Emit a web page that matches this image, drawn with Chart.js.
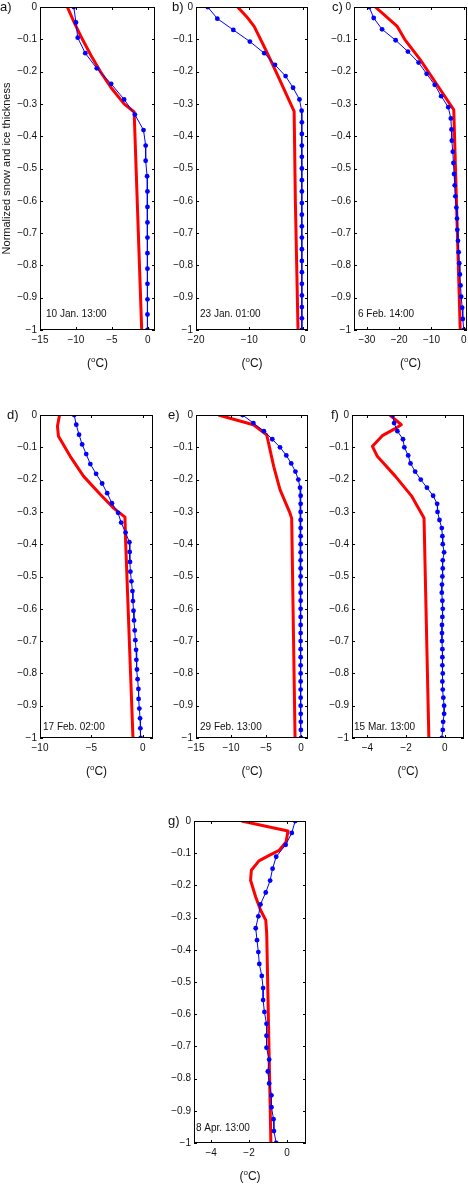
<!DOCTYPE html>
<html>
<head>
<meta charset="utf-8">
<script src="https://cdn.jsdelivr.net/npm/chart.js@4.4.1/dist/chart.umd.min.js"></script>
<style>
  html, body { margin: 0; padding: 0; background: #fff; }
  #wrap { position: relative; width: 468px; height: 1186px; overflow: hidden; }
  #wrap canvas { position: absolute; }
</style>
</head>
<body>
<div id="wrap"></div>
<script>
// normalized depth of model layers (0 = snow surface, -1 = ice bottom)
const depthA = [0, -0.048, -0.095, -0.143, -0.19, -0.238, -0.286, -0.333, -0.381, -0.429, -0.476,
  -0.524, -0.571, -0.619, -0.667, -0.714, -0.762, -0.81, -0.857, -0.905, -0.952, -1];
const depthB = [0, -0.036, -0.071, -0.107, -0.143, -0.179, -0.214, -0.25, -0.286, -0.321, -0.357,
  -0.393, -0.429, -0.464, -0.5, -0.536, -0.571, -0.607, -0.643, -0.679, -0.714, -0.75, -0.786,
  -0.821, -0.857, -0.893, -0.929, -0.964, -1];
const depthC = [0, -0.034, -0.069, -0.103, -0.138, -0.172, -0.207, -0.241, -0.276, -0.31, -0.345,
  -0.379, -0.414, -0.448, -0.483, -0.517, -0.552, -0.586, -0.621, -0.655, -0.69, -0.724, -0.759,
  -0.793, -0.828, -0.862, -0.897, -0.931, -0.966, -1];
const depthD = [0, -0.03, -0.061, -0.091, -0.121, -0.152, -0.182, -0.212, -0.242, -0.273, -0.303,
  -0.333, -0.364, -0.394, -0.424, -0.455, -0.485, -0.515, -0.545, -0.576, -0.606, -0.636, -0.667,
  -0.697, -0.727, -0.758, -0.788, -0.818, -0.848, -0.879, -0.909, -0.939, -0.97, -1];
const depthEF = [0, -0.025, -0.05, -0.075, -0.1, -0.125, -0.15, -0.175, -0.2, -0.225, -0.25,
  -0.275, -0.3, -0.325, -0.35, -0.375, -0.4, -0.425, -0.45, -0.475, -0.5, -0.525, -0.55, -0.575,
  -0.6, -0.625, -0.65, -0.675, -0.7, -0.725, -0.75, -0.775, -0.8, -0.825, -0.85, -0.875, -0.9,
  -0.925, -0.95, -0.975, -1];
const depthG = [0, -0.037, -0.074, -0.111, -0.148, -0.185, -0.222, -0.259, -0.296, -0.333, -0.37,
  -0.407, -0.444, -0.481, -0.519, -0.556, -0.593, -0.63, -0.667, -0.704, -0.741, -0.778, -0.815,
  -0.852, -0.889, -0.926, -0.963, -1];

// observed temperatures (blue, dots)
const obsA = [-10.3, -10.0, -9.75, -8.7, -7.1, -5.1, -3.3, -1.8, -0.6, -0.3, -0.3,
  -0.1, -0.05, -0.05, -0.05, -0.05, -0.05, -0.05, -0.05, -0.05, -0.05, -0.05];
const obsB = [-17.8, -16.0, -13.0, -9.9, -7.2, -5.2, -3.2, -1.8, -0.6, -0.2, -0.15,
  -0.15, -0.15, -0.15, -0.15, -0.15, -0.15, -0.15, -0.15, -0.15, -0.15, -0.15, -0.15,
  -0.15, -0.15, -0.15, -0.15, -0.15, -0.15];
const obsC = [-29.3, -27.9, -25.3, -21.1, -17.3, -14.0, -11.5, -9.0, -7.0, -4.8, -4.0,
  -3.8, -3.7, -3.4, -3.2, -3.0, -2.8, -2.6, -2.3, -2.1, -2.0, -1.8, -1.6,
  -1.4, -1.2, -1.0, -0.8, -0.5, -0.3, 0];
const obsD = [-6.67, -6.47, -6.2, -5.9, -5.5, -5.1, -4.54, -3.95, -3.46, -3.0, -2.4,
  -2.1, -1.67, -1.3, -1.27, -1.24, -1.2, -1.1, -1.0, -0.95, -0.9, -0.85, -0.78,
  -0.72, -0.65, -0.62, -0.56, -0.5, -0.42, -0.4, -0.33, -0.26, -0.23, -0.2];
const obsE = [-8.35, -6.8, -5.3, -4.1, -3.0, -2.1, -1.4, -0.8, -0.38, -0.14, -0.05,
  -0.05, -0.05, -0.05, -0.05, -0.05, -0.05, -0.05, -0.05, -0.05, -0.05,
  -0.05, -0.05, -0.05, -0.05, -0.05, -0.05, -0.05, -0.05, -0.05, -0.05,
  -0.05, -0.05, -0.05, -0.05, -0.05, -0.05, -0.04, -0.03, -0.02, 0];
const obsF = [-2.69, -2.62, -2.45, -2.16, -2.09, -1.89, -1.77, -1.53, -1.24, -0.92,
  -0.6, -0.39, -0.37, -0.27, -0.15, -0.12, -0.1, -0.03, -0.1, -0.1,
  -0.12, -0.14, -0.15, -0.12, -0.1, -0.12, -0.14, -0.14, -0.14, -0.12,
  -0.12, -0.12, -0.1, -0.12, -0.1, -0.07, -0.03, -0.03, -0.08, -0.1, -0.15];
const obsG = [0.43, 0.25, -0.07, -0.57, -0.76, -0.89, -1.12, -1.4, -1.51, -1.65, -1.58,
  -1.51, -1.46, -1.33, -1.26, -1.26, -1.19, -1.08, -1.08, -1.08, -0.94, -1.01, -0.94,
  -0.82, -0.82, -0.71, -0.69, -0.57];

// simulated temperatures (red, thick line)
const simDepthA = [0, -0.05, -0.1, -0.15, -0.2, -0.25, -0.3, -0.325, -1];
const simA = [-11.2, -10.2, -9.1, -7.9, -6.6, -5.1, -3.3, -1.9, -0.85];
const simDepthB = [0, -0.03, -0.06, -0.13, -0.215, -0.323, -0.6, -1];
const simB = [-12.2, -10.5, -9.1, -7.0, -4.6, -1.6, -1.37, -0.87];
const simDepthC = [0, -0.06, -0.1, -0.163, -0.318, -1];
const simC = [-27.4, -20.6, -18.3, -13.5, -3.1, -1.1];
const simDepthD = [0, -0.035, -0.066, -0.128, -0.19, -0.247, -0.289, -0.316, -0.387, -1];
const simD = [-8.1, -8.3, -8.2, -7.06, -5.75, -4.1, -2.8, -1.73, -1.67, -0.95];
const simDepthE = [0, -0.03, -0.061, -0.159, -0.231, -0.304, -0.32, -1];
const simE = [-11.8, -6.8, -4.9, -3.9, -3.0, -1.57, -1.33, -0.85];
const simDepthF = [0, -0.03, -0.043, -0.064, -0.097, -0.128, -0.19, -0.252, -0.319, -1];
const simF = [-2.84, -2.25, -2.59, -3.23, -3.74, -3.49, -2.55, -1.7, -1.07, -0.82];
const simDepthG = [0, -0.031, -0.065, -0.091, -0.107, -0.124, -0.153, -0.184, -0.236, -0.277, -0.308, -0.349, -1];
const simG = [-2.4, 0.05, -0.05, -0.41, -0.94, -1.48, -1.88, -1.92, -1.65, -1.39, -1.12, -1.07, -0.85];

// tick labels
const yTicks = [0, -0.1, -0.2, -0.3, -0.4, -0.5, -0.6, -0.7, -0.8, -0.9, -1];
const xTicksA = [-15, -10, -5, 0];
const xTicksB = [-20, -10, 0];
const xTicksC = [-30, -20, -10, 0];
const xTicksD = [-10, -5, 0];
const xTicksE = [-15, -10, -5, 0];
const xTicksF = [-4, -2, 0];
const xTicksG = [-4, -2, 0];

const dates = ['10 Jan. 13:00', '23 Jan. 01:00', '6 Feb. 14:00', '17 Feb. 02:00',
  '29 Feb. 13:00', '15 Mar. 13:00', '8 Apr. 13:00'];

const FONT = '"Liberation Sans", Arial, Helvetica, sans-serif';

// panel layout: plot box [left, top, right, bottom] on the page
const panels = [
  { tag: 'a', box: [40, 7, 155, 330], xMin: -15, xTicks: xTicksA, depth: depthA, obs: obsA, sd: simDepthA, sim: simA, tagX: 0, dateDx: 6, dateDy: 16, yTitle: true },
  { tag: 'b', box: [196, 7, 308, 330], xMin: -20, xTicks: xTicksB, depth: depthB, obs: obsB, sd: simDepthB, sim: simB, tagX: 16, dateDx: 4, dateDy: 16 },
  { tag: 'c', box: [354, 7, 467, 330], xMin: -34, xTicks: xTicksC, depth: depthC, obs: obsC, sd: simDepthC, sim: simC, tagX: 18, dateDx: 4, dateDy: 16 },
  { tag: 'd', box: [40, 415, 153, 738], xMin: -10, xTicks: xTicksD, depth: depthD, obs: obsD, sd: simDepthD, sim: simD, tagX: 7, dateDx: 3, dateDy: 11 },
  { tag: 'e', box: [196, 415, 308, 738], xMin: -15, xTicks: xTicksE, depth: depthEF, obs: obsE, sd: simDepthE, sim: simE, tagX: 12, dateDx: 4, dateDy: 11 },
  { tag: 'f', box: [352, 415, 464, 738], xMin: -4.8, xTicks: xTicksF, depth: depthEF, obs: obsF, sd: simDepthF, sim: simF, tagX: 19, dateDx: 2, dateDy: 11 },
  { tag: 'g', box: [194, 821, 306, 1143], xMin: -4.9, xTicks: xTicksG, depth: depthG, obs: obsG, sd: simDepthG, sim: simG, tagX: 14, dateDx: 2, dateDy: 15 }
];

const minus = v => (v < 0 ? '\u2212' + String(Math.abs(v)) : String(v));

// matlab-like box with inward ticks, panel tag, date and unit label
const frame = {
  id: 'frame',
  afterDraw(chart, args, o) {
    const { ctx, chartArea: a } = chart;
    const x = chart.scales.x, y = chart.scales.y;
    ctx.save();
    ctx.strokeStyle = '#000';
    ctx.lineWidth = 1;
    ctx.strokeRect(a.left + 0.5, a.top + 0.5, a.right - a.left - 1, a.bottom - a.top - 1);
    ctx.beginPath();
    y.ticks.forEach(t => {
      const py = Math.round(y.getPixelForValue(t.value)) + 0.5;
      ctx.moveTo(a.left, py); ctx.lineTo(a.left + 3, py);
      ctx.moveTo(a.right, py); ctx.lineTo(a.right - 3, py);
    });
    x.ticks.forEach(t => {
      const px = Math.round(x.getPixelForValue(t.value)) + 0.5;
      ctx.moveTo(px, a.bottom); ctx.lineTo(px, a.bottom - 3);
      ctx.moveTo(px, a.top); ctx.lineTo(px, a.top + 3);
    });
    ctx.stroke();

    ctx.fillStyle = '#111';
    ctx.textAlign = 'left';
    ctx.textBaseline = 'middle';
    ctx.font = '13px ' + FONT;
    ctx.fillText(o.tag + ')', o.tagX, a.top);
    ctx.font = '10px ' + FONT;
    ctx.fillText(o.date, a.left + o.dateDx, a.bottom - o.dateDy);

    // (oC) with raised small o
    const cx = (a.left + a.right) / 2, ty = a.bottom + 34;
    ctx.font = '12px ' + FONT;
    const w1 = ctx.measureText('(').width, w3 = ctx.measureText('C)').width;
    ctx.font = '8px ' + FONT;
    const w2 = ctx.measureText('o').width;
    let px = cx - (w1 + w2 + w3) / 2;
    ctx.font = '12px ' + FONT;
    ctx.fillText('(', px, ty); px += w1;
    ctx.font = '8px ' + FONT;
    ctx.fillText('o', px, ty - 4); px += w2;
    ctx.font = '12px ' + FONT;
    ctx.fillText('C)', px, ty);
    ctx.restore();
  }
};

const wrap = document.getElementById('wrap');

panels.forEach((p, i) => {
  const [l, t, r, b] = p.box;
  const cv = document.createElement('canvas');
  const w = (r - l) + 46, h = (b - t) + 55;
  cv.width = w; cv.height = h;
  cv.style.left = (l - 40) + 'px';
  cv.style.top = (t - 10) + 'px';
  cv.style.width = w + 'px';
  cv.style.height = h + 'px';
  wrap.appendChild(cv);

  new Chart(cv, {
    type: 'scatter',
    data: {
      datasets: [
        {
          data: p.obs.map((v, k) => ({ x: v, y: p.depth[k] })),
          showLine: true,
          borderColor: '#0000ff',
          borderWidth: 1,
          backgroundColor: '#0000ff',
          pointBackgroundColor: '#0000ff',
          pointBorderWidth: 0,
          pointRadius: 2.4,
          tension: 0
        },
        {
          data: p.sim.map((v, k) => ({ x: v, y: p.sd[k] })),
          showLine: true,
          borderColor: '#ff0000',
          borderWidth: 3,
          pointRadius: 0,
          borderJoinStyle: 'round',
          tension: 0
        }
      ]
    },
    options: {
      responsive: false,
      animation: false,
      devicePixelRatio: 1,
      layout: { padding: { top: 10, right: 6, left: 0, bottom: 0 } },
      plugins: {
        legend: { display: false },
        tooltip: { enabled: false },
        frame: { tag: p.tag, tagX: p.tagX, date: dates[i], dateDx: p.dateDx, dateDy: p.dateDy }
      },
      scales: {
        x: {
          type: 'linear',
          min: p.xMin,
          max: 1,
          afterBuildTicks: s => { s.ticks = p.xTicks.map(v => ({ value: v })); },
          afterFit: s => { s.height = 45; },
          grid: { display: false, drawTicks: false },
          border: { display: false },
          ticks: { font: { family: FONT, size: 10 }, color: '#111', padding: 4, maxRotation: 0, callback: v => minus(v) }
        },
        y: {
          type: 'linear',
          min: -1,
          max: 0,
          afterBuildTicks: s => { s.ticks = yTicks.map(v => ({ value: v })); },
          afterFit: s => { s.width = 40; },
          grid: { display: false, drawTicks: false },
          border: { display: false },
          ticks: { font: { family: FONT, size: 10 }, color: '#111', padding: 3, callback: v => minus(v) },
          title: {
            display: !!p.yTitle,
            text: 'Normalized snow and ice thickness',
            font: { family: FONT, size: 11 },
            color: '#111',
            padding: 0
          }
        }
      }
    },
    plugins: [frame]
  });
});
</script>
</body>
</html>
